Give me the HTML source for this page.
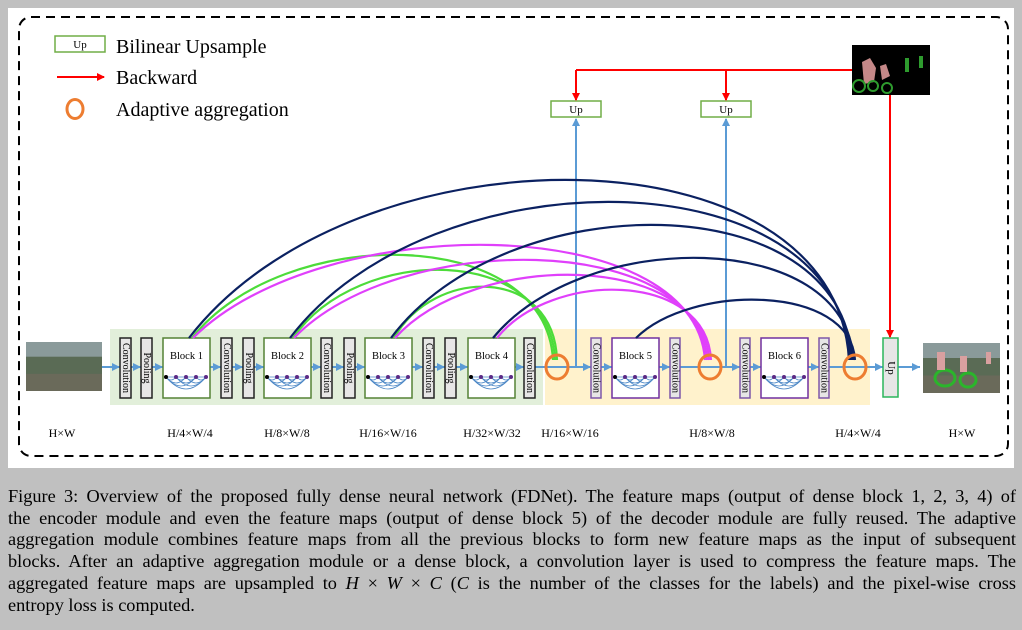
<!DOCTYPE html>
<html><head><meta charset="utf-8">
<style>
body{margin:0;width:1022px;height:630px;background:#c0c0c0;overflow:hidden;font-family:"Liberation Serif",serif;}
#panel{position:absolute;left:8px;top:8px;width:1006px;height:460px;background:#fff;}
svg{position:absolute;left:0;top:0;}
#cap{position:absolute;left:8px;top:486px;width:1008px;font-size:18.3px;line-height:21.7px;color:#000;}
#cap div{text-align:justify;text-align-last:justify;white-space:nowrap;}
#cap div.last{text-align-last:left;}
</style></head><body>
<div id="panel"></div>
<svg id="s" width="1022" height="630" viewBox="0 0 1022 630" font-family="Liberation Serif, serif">
<defs>
<marker id="ar" markerWidth="8" markerHeight="8" refX="7" refY="4" orient="auto" markerUnits="userSpaceOnUse"><path d="M0,0 L8,4 L0,8 z" fill="#f00"/></marker>
<marker id="ab" markerWidth="8" markerHeight="8" refX="7" refY="4" orient="auto" markerUnits="userSpaceOnUse"><path d="M0,0 L8,4 L0,8 z" fill="#5b9bd5"/></marker>
</defs>
<rect x="19" y="17" width="989" height="439" rx="12" fill="none" stroke="#000" stroke-width="2" stroke-dasharray="9,6"/>
<rect x="55" y="36" width="50" height="16" fill="#fff" stroke="#70ad47" stroke-width="1.5"/>
<text x="80" y="48" font-size="11" text-anchor="middle">Up</text>
<text x="116" y="53" font-size="20">Bilinear Upsample</text>
<line x1="57" y1="77" x2="104" y2="77" stroke="#f00" stroke-width="2" marker-end="url(#ar)"/>
<text x="116" y="84" font-size="20">Backward</text>
<ellipse cx="75" cy="109" rx="8" ry="9.5" fill="none" stroke="#ed7d31" stroke-width="3"/>
<text x="116" y="116" font-size="20">Adaptive aggregation</text>
<rect x="110" y="329" width="433" height="76" fill="#e2efda"/>
<rect x="545" y="329" width="325" height="76" fill="#fff2cc"/>
<g id="g"></g>
</svg>
<div id="cap">
<div>Figure 3: Overview of the proposed fully dense neural network (FDNet). The feature maps (output of dense block 1, 2, 3, 4) of</div>
<div>the encoder module and even the feature maps (output of dense block 5) of the decoder module are fully reused. The adaptive</div>
<div>aggregation module combines feature maps from all the previous blocks to form new feature maps as the input of subsequent</div>
<div>blocks. After an adaptive aggregation module or a dense block, a convolution layer is used to compress the feature maps. The</div>
<div>aggregated feature maps are upsampled to <i>H</i> × <i>W</i> × <i>C</i> (<i>C</i> is the number of the classes for the labels) and the pixel-wise cross</div>
<div class="last">entropy loss is computed.</div>
</div>
<script>
const g=document.getElementById('g');let h='';
const Y=367;
h+=`<line x1="102" y1="${Y}" x2="920" y2="${Y}" stroke="#5b9bd5" stroke-width="2"/>`;
[[103,120],[131,141],[152,163],[210,221],[232,243],[254,264],[310,321],[332,344],[355,365],[412,423],[434,445],[456,468],[515,524],[568,591],[601,612],[659,670],[721,740],[750,761],[808,819],[864,883],[898,920]].forEach(([a,b])=>{h+=`<path d="M${b-8},${Y-4} L${b},${Y} L${b-8},${Y+4}z" fill="#5b9bd5"/>`});
function img(x,y,w,hh){return `<rect x="${x}" y="${y}" width="${w}" height="${hh}" fill="#5a6b55"/><rect x="${x}" y="${y}" width="${w}" height="${hh*0.3}" fill="#8a9a9a"/><rect x="${x}" y="${y+hh*0.65}" width="${w}" height="${hh*0.35}" fill="#6a6a5a"/>`}
h+=img(26,342,76,49);
h+=`<g>${img(923,343,77,50)}<ellipse cx="945" cy="378" rx="10" ry="8" fill="none" stroke="#2bb52b" stroke-width="3"/><ellipse cx="968" cy="380" rx="8" ry="7" fill="none" stroke="#2bb52b" stroke-width="3"/><rect x="937" y="352" width="8" height="18" fill="#d9a0a0"/><rect x="960" y="356" width="7" height="16" fill="#d9a0a0"/><rect x="986" y="352" width="5" height="12" fill="#d9a0a0"/></g>`;
h+=`<rect x="852" y="45" width="78" height="50" fill="#000"/><path d="M862 62 l8 -4 l6 10 l-2 14 l-10 2z" fill="#c48888"/><path d="M880 66 l6 -2 l4 12 l-8 4z" fill="#c48888"/><ellipse cx="859" cy="86" rx="6" ry="6" fill="none" stroke="#2e9b2e" stroke-width="2"/><ellipse cx="873" cy="86" rx="5" ry="5" fill="none" stroke="#2e9b2e" stroke-width="2"/><ellipse cx="887" cy="88" rx="5" ry="5" fill="none" stroke="#2e9b2e" stroke-width="2"/><rect x="905" y="58" width="4" height="14" fill="#2e9b2e"/><rect x="919" y="56" width="4" height="12" fill="#2e9b2e"/>`;
function vbox(x,label,stroke,w){w=w||11;const cx=x+w/2;return `<rect x="${x}" y="338" width="${w}" height="60" fill="#e7e6e6" stroke="${stroke}" stroke-width="1.5"/><text x="${cx}" y="368" font-size="10" text-anchor="middle" dominant-baseline="middle" transform="rotate(90 ${cx} 368)">${label}</text>`}
[[120,'Convolution'],[141,'Pooling'],[221,'Convolution'],[243,'Pooling'],[321,'Convolution'],[344,'Pooling'],[423,'Convolution'],[445,'Pooling'],[524,'Convolution']].forEach(([x,l])=>h+=vbox(x,l,'#222'));
[591,670,740,819].forEach(x=>h+=vbox(x,'Convolution','#7e57a8',10));
function block(x,n,stroke){let s=`<rect x="${x}" y="338" width="47" height="60" fill="#fff" stroke="${stroke}" stroke-width="1.5"/><text x="${x+23.5}" y="359" font-size="10.5" text-anchor="middle">Block ${n}</text>`;
const xs=[x+3,x+13,x+23,x+33,x+43];
for(let i=0;i<5;i++)for(let j=i+1;j<5;j++){const d=(j-i);s+=`<path d="M${xs[i]},377 Q${(xs[i]+xs[j])/2},${377+d*6} ${xs[j]},377" fill="none" stroke="#4a86c5" stroke-width="0.8"/>`;}
s+=`<line x1="${xs[0]}" y1="377" x2="${xs[4]}" y2="377" stroke="#4a86c5" stroke-width="0.8"/>`;
xs.forEach((xx,i)=>s+=`<circle cx="${xx}" cy="377" r="2" fill="${i==0?'#000':'#5b2a86'}"/>`);return s;}
[[163,1],[264,2],[365,3],[468,4]].forEach(([x,n])=>h+=block(x,n,'#548235'));
[[612,5],[761,6]].forEach(([x,n])=>h+=block(x,n,'#7030a0'));
h+=`<rect x="883" y="338" width="15" height="59" fill="#e7e6e6" stroke="#2bb55b" stroke-width="1.5"/><text x="890.5" y="368" font-size="11" text-anchor="middle" dominant-baseline="middle" transform="rotate(90 890.5 368)">Up</text>`;
[576,726].forEach(x=>{h+=`<line x1="${x}" y1="${Y}" x2="${x}" y2="119" stroke="#5b9bd5" stroke-width="2" marker-end="url(#ab)"/>`;
h+=`<rect x="${x-25}" y="101" width="50" height="16" fill="#fff" stroke="#70ad47" stroke-width="1.5"/><text x="${x}" y="113" font-size="11" text-anchor="middle">Up</text>`;
h+=`<line x1="${x}" y1="70" x2="${x}" y2="100" stroke="#f00" stroke-width="2" marker-end="url(#ar)"/>`;});
h+=`<line x1="576" y1="70" x2="852" y2="70" stroke="#f00" stroke-width="2"/>`;
h+=`<line x1="890" y1="95" x2="890" y2="337" stroke="#f00" stroke-width="2" marker-end="url(#ar)"/>`;
function arc(x0,x1,peak,col){const y0=338,y1=360;const c=(peak-0.125*y0-0.125*y1)/0.75;
const c1x=x0+(x1-x0)*0.25,c2x=x1-(x1-x0)*0.02;return `<path d="M${x0},${y0} C${c1x},${c} ${c2x},${c} ${x1},${y1}" fill="none" stroke="${col}" stroke-width="2.2"/>`;}
const bx=[190,291,392,494,637];
[[0,255],[1,270],[2,287]].forEach(([i,p],k)=>h+=arc(bx[i]+2,553+k*2,p,'#4ddc3a'));
[[0,245],[1,260],[2,275],[3,290]].forEach(([i,p],k)=>h+=arc(bx[i]+3,705+k*2,p,'#e040fb'));
[[0,180],[1,202],[2,225],[3,258],[4,300]].forEach(([i,p],k)=>h+=arc(bx[i]-1,849+k*1.5,p,'#0b2161'));
[557,710,855].forEach(x=>h+=`<ellipse cx="${x}" cy="${Y}" rx="11" ry="12" fill="none" stroke="#ed7d31" stroke-width="3"/>`);
[[62,'H×W'],[190,'H/4×W/4'],[287,'H/8×W/8'],[388,'H/16×W/16'],[492,'H/32×W/32'],[570,'H/16×W/16'],[712,'H/8×W/8'],[858,'H/4×W/4'],[962,'H×W']].forEach(([x,t])=>h+=`<text x="${x}" y="437" font-size="12" text-anchor="middle">${t}</text>`);
g.innerHTML=h;
</script>
</body></html>
